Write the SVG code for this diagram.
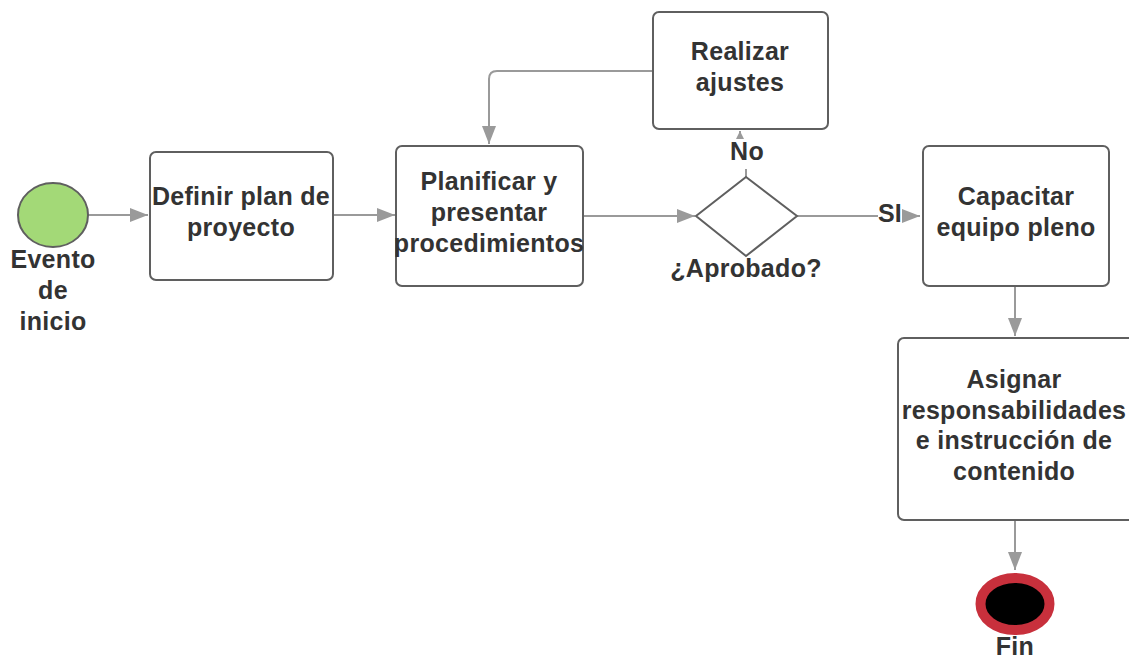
<svg xmlns="http://www.w3.org/2000/svg" width="1129" height="659" viewBox="0 0 1129 659">
  <style>
    .box { fill: #ffffff; stroke: #5f5f5f; stroke-width: 2; }
    .lbl { font-family: "Liberation Sans", Arial, sans-serif; font-weight: bold; font-size: 25px; letter-spacing: 0.3px; fill: #333333; text-anchor: middle; }
    .edge { fill: none; stroke: #9a9a9a; stroke-width: 2; }
  </style>
  <defs>
    <marker id="arrow" markerUnits="userSpaceOnUse" markerWidth="18" markerHeight="14" refX="18" refY="7" orient="auto">
      <path d="M0,0 L18,7 L0,14 Z" fill="#9a9a9a"/>
    </marker>
    <marker id="arrowSmall" markerUnits="userSpaceOnUse" markerWidth="8" markerHeight="8" refX="8" refY="4" orient="auto">
      <path d="M0,0 L8,4 L0,8 Z" fill="#9a9a9a"/>
    </marker>
  </defs>
  <rect width="1129" height="659" fill="#ffffff"/>

  <!-- connectors -->
  <g id="connectors">
    <line class="edge" x1="88" y1="215" x2="148" y2="215" marker-end="url(#arrow)"/>
    <line class="edge" x1="333" y1="215" x2="395" y2="215" marker-end="url(#arrow)"/>
    <line class="edge" x1="583" y1="216" x2="695" y2="216" marker-end="url(#arrow)"/>
    <path class="edge" d="M653,71 H497 Q489,71 489,79 V144" marker-end="url(#arrow)"/>
    <path class="edge" d="M746,177 V150 H740 V131" marker-end="url(#arrowSmall)"/>
    <line class="edge" x1="797" y1="216" x2="878" y2="216"/>
    <line class="edge" x1="902" y1="216" x2="920" y2="216" marker-end="url(#arrow)"/>
    <line class="edge" x1="1015" y1="286" x2="1015" y2="336" marker-end="url(#arrow)"/>
    <line class="edge" x1="1015" y1="520" x2="1015" y2="570" marker-end="url(#arrow)"/>
    <rect x="728" y="139" width="38" height="30" fill="#ffffff"/>
    <text class="lbl" x="747" y="160">No</text>
    <text class="lbl" x="890" y="222">SI</text>
  </g>

  <!-- start event -->
  <g id="start">
    <ellipse cx="53" cy="215" rx="35" ry="32" fill="#a3d977" stroke="#5f5f5f" stroke-width="2"/>
    <text class="lbl" x="53" y="268">Evento</text>
    <text class="lbl" x="53" y="299">de</text>
    <text class="lbl" x="53" y="330">inicio</text>
  </g>

  <g id="definir">
    <rect class="box" x="150" y="152" width="183" height="128" rx="6"/>
    <text class="lbl" x="241" y="205">Definir plan de</text>
    <text class="lbl" x="241" y="236">proyecto</text>
  </g>

  <g id="planificar">
    <rect class="box" x="396" y="146" width="187" height="140" rx="6"/>
    <text class="lbl" x="489" y="190">Planificar y</text>
    <text class="lbl" x="489" y="221">presentar</text>
    <text class="lbl" x="489" y="252">procedimientos</text>
  </g>

  <g id="aprobado">
    <polygon points="746,177 797,216 746,256 696,216" fill="#ffffff" stroke="#5f5f5f" stroke-width="2"/>
    <text class="lbl" x="746" y="277">¿Aprobado?</text>
  </g>

  <g id="ajustes">
    <rect class="box" x="653" y="12" width="175" height="117" rx="6"/>
    <text class="lbl" x="740" y="60">Realizar</text>
    <text class="lbl" x="740" y="91">ajustes</text>
  </g>

  <g id="capacitar">
    <rect class="box" x="923" y="146" width="186" height="140" rx="6"/>
    <text class="lbl" x="1016" y="205">Capacitar</text>
    <text class="lbl" x="1016" y="236">equipo pleno</text>
  </g>

  <g id="asignar">
    <rect class="box" x="898" y="338" width="240" height="182" rx="6"/>
    <text class="lbl" x="1014" y="388">Asignar</text>
    <text class="lbl" x="1014" y="419">responsabilidades</text>
    <text class="lbl" x="1014" y="449">e instrucción de</text>
    <text class="lbl" x="1014" y="480">contenido</text>
  </g>

  <!-- end event -->
  <g id="fin">
    <ellipse cx="1015" cy="604" rx="34.5" ry="26" fill="#000000" stroke="#c8303c" stroke-width="10"/>
    <text class="lbl" x="1015" y="655">Fin</text>
  </g>
</svg>
